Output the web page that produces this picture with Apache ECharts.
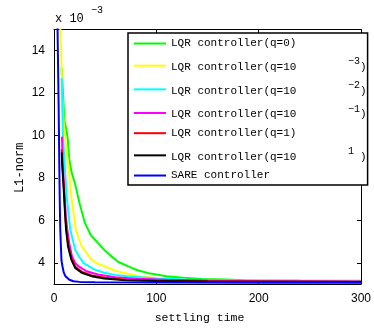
<!DOCTYPE html>
<html>
<head>
<meta charset="utf-8">
<script src="https://cdn.jsdelivr.net/npm/echarts@6/dist/echarts.min.js"></script>
<style>html,body{margin:0;padding:0;background:#fff}#c{width:374px;height:329px}</style>
</head>
<body>
<div id="c"></div>
<script>
// data: [settling time, L1-norm (x 1e-3)]
const greenData = [[7.3,13.2],[8.3,12.4],[10.2,10.7],[12,10.3],[13.3,9.9],[14.9,8.9],[17,8.3],[20.7,7.7],[25,6.8],[30.2,5.88],[36,5.3],[42.9,4.94],[49.2,4.6],[55,4.35],[62.6,4.05],[72,3.84],[81.6,3.65],[94.3,3.49],[110,3.37],[126,3.29],[145,3.24],[167,3.21],[186,3.18],[240,3.16],[300,3.15]];
const yellowData = [[6.1,15.2],[7.0,13.9],[8.0,11.9],[9.2,10.8],[10.2,10.2],[12,9.4],[13.7,8.7],[16.9,7.13],[21.3,5.56],[27,4.78],[32,4.45],[36.6,4.15],[42,3.98],[49,3.84],[60,3.62],[72,3.48],[82,3.38],[104,3.25],[130,3.2],[180,3.16],[240,3.14],[300,3.13]];
const cyanData = [[7.6,12.7],[8.2,11.2],[8.7,10.0],[10.5,8.6],[12.4,7.13],[15.9,5.56],[20.7,4.62],[24.5,4.3],[28.6,4.0],[39.7,3.68],[49,3.53],[60,3.43],[72,3.37],[100,3.26],[130,3.21],[180,3.17],[240,3.14],[300,3.13]];
const magentaData = [[7.8,9.95],[8.3,9.0],[9.3,8.0],[10.5,7.0],[11.6,6.2],[13,5.56],[15,4.9],[17.5,4.31],[20.5,4.0],[23.8,3.84],[31.8,3.6],[42.9,3.45],[60,3.32],[80,3.25],[110,3.2],[150,3.16],[200,3.14],[300,3.12]];
const redData = [[7.6,9.35],[8.0,8.8],[9.0,8.0],[10.0,7.2],[11.0,6.3],[12.0,5.6],[14.0,4.82],[17.2,4.2],[21,3.8],[27.5,3.57],[37,3.4],[50,3.29],[70,3.2],[100,3.16],[150,3.13],[200,3.12],[300,3.11]];
const blackData = [[7.6,9.2],[8.0,8.6],[9.0,7.9],[9.9,7.13],[10.8,6.3],[11.8,5.56],[13.7,4.78],[16.9,4.15],[20.7,3.76],[27,3.53],[36.6,3.37],[49,3.26],[70,3.18],[100,3.14],[150,3.12],[200,3.11],[300,3.10]];
const blueData = [[3.4,15.3],[4.0,13.2],[4.5,11.5],[4.8,10.3],[5.2,8.5],[5.6,7.0],[6.1,5.6],[7.3,4.1],[8.4,3.8],[9.5,3.55],[11,3.38],[12.7,3.29],[15,3.2],[19,3.13],[25,3.1],[40,3.08],[100,3.07],[200,3.06],[300,3.06]];

const seriesNames = ['LQR controller(q=0)','LQR controller(q=10^-3)','LQR controller(q=10^-2)','LQR controller(q=10^-1)','LQR controller(q=1)','LQR controller(q=10^1)','SARE controller'];
const seriesColors = ['#00ff00','#ffff00','#00ffff','#ff00ff','#ff0000','#000000','#0000ff'];
const seriesData = [greenData, yellowData, cyanData, magentaData, redData, blackData, blueData];
const xTicks = [0,100,200,300];
const yTicks = [4,6,8,10,12,14];

const mono = 'Liberation Mono';
const chart = echarts.init(document.getElementById('c'), null, {renderer:'canvas'});
const axisCommon = {
  axisLine:{show:true, onZero:false, lineStyle:{color:'#000', width:1}},
  axisTick:{show:true, inside:true, length:4, lineStyle:{color:'#000'}},
  splitLine:{show:false}
};
chart.setOption({
  animation:false,
  grid:{left:54, right:5, top:29.5, bottom:44.5, containLabel:false},
  graphic:[
    {type:'text', left:55, top:13, style:{text:'x 10', font:'12px '+mono, fill:'#000'}},
    {type:'text', left:91, top:5, style:{text:'−3', font:'10px '+mono, fill:'#000'}}
  ],
  legend:{
    orient:'vertical', left:128, top:33,
    padding:[5,1,4,6], itemGap:7.67, itemWidth:32, itemHeight:14,
    icon:'path://M0,0 L32,0 L32,2 L0,2 Z',
    borderColor:'#000', borderWidth:1.5, backgroundColor:'#fff',
    data:seriesNames,
    formatter:function(n){
      const m = n.match(/^(.*)\^(.*)\)$/);
      if(m){ return '{a|'+m[1]+'}{s|'+m[2].replace('-','−')+'}{b|)}'; }
      return '{p|'+n+'}';
    },
    textStyle:{
      color:'#000', fontFamily:mono, fontSize:11,
      rich:{
        p:{fontFamily:mono, fontSize:11, lineHeight:14, color:'#000'},
        a:{fontFamily:mono, fontSize:11, lineHeight:14, width:177, verticalAlign:'bottom', color:'#000'},
        s:{fontFamily:mono, fontSize:10, lineHeight:14, width:12, padding:[0,0,6,0], verticalAlign:'bottom', color:'#000'},
        b:{fontFamily:mono, fontSize:11, lineHeight:14, width:6, verticalAlign:'bottom', color:'#000'}
      }
    }
  },
  xAxis:[
    Object.assign({type:'value', position:'bottom', min:0, max:300, interval:100,
      name:'settling time', nameLocation:'middle', nameGap:28,
      nameTextStyle:{fontFamily:mono, fontSize:11.5, color:'#000', padding:[0,16,0,0]},
      axisLabel:{show:true, color:'#000', fontFamily:'Liberation Sans', fontSize:12, margin:9, customValues:xTicks},
    }, axisCommon, {axisTick:{show:true, inside:true, length:4, lineStyle:{color:'#000'}, customValues:xTicks}}),
    Object.assign({type:'value', position:'top', min:0, max:300, interval:100,
      axisLabel:{show:false}}, axisCommon)
  ],
  yAxis:[
    Object.assign({type:'value', position:'left', min:3, max:15,
      name:'L1-norm', nameLocation:'middle', nameGap:28.5, nameMoveOverlap:false,
      nameTextStyle:{fontFamily:mono, fontSize:12, color:'#000', padding:[0,22,0,0]},
      axisLabel:{show:true, color:'#000', fontFamily:'Liberation Sans', fontSize:12, margin:9, customValues:yTicks}
    }, axisCommon, {axisTick:{show:true, inside:true, length:4, lineStyle:{color:'#000'}, customValues:yTicks}}),
    Object.assign({type:'value', position:'right', min:3, max:15,
      axisLabel:{show:false}}, axisCommon, {axisTick:{show:true, inside:true, length:4, lineStyle:{color:'#000'}, customValues:yTicks}})
  ],
  series: seriesNames.map(function(n,i){
    return {name:n, type:'line', data:seriesData[i], xAxisIndex:0, yAxisIndex:0,
      symbol:'none', showSymbol:false, clip:true, z:2+i,
      lineStyle:{color:seriesColors[i], width:2}, itemStyle:{color:seriesColors[i]}};
  })
});
</script>
</body>
</html>
